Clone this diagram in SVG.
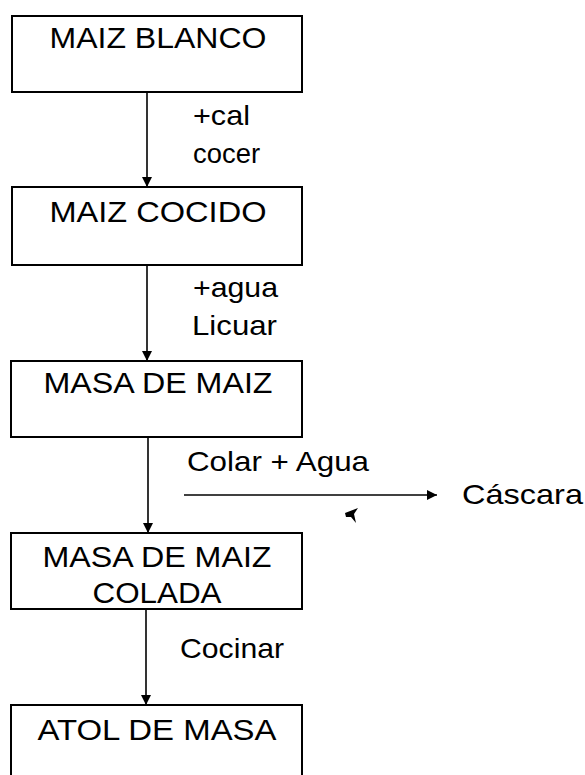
<svg xmlns="http://www.w3.org/2000/svg" width="585" height="775" viewBox="0 0 585 775">
<style>
.box{fill:#fff;stroke:#000;stroke-width:2}
.t{font-family:"Liberation Sans",Arial,sans-serif;font-size:29px;fill:#000;text-anchor:middle}
.l{font-family:"Liberation Sans",Arial,sans-serif;font-size:28px;fill:#000}
.c{stroke:#000;stroke-width:1.6;fill:none}
</style>
<defs>
<marker id="ah" viewBox="0 0 10 10" refX="10" refY="5" markerWidth="10" markerHeight="10" markerUnits="userSpaceOnUse" orient="auto">
<path d="M0,0 L10,5 L0,10 Z" fill="#000"/>
</marker>
</defs>
<rect width="585" height="775" fill="#fff"/>
<g id="connectors">
<line class="c" x1="147" y1="92" x2="147" y2="187" marker-end="url(#ah)"/>
<line class="c" x1="147" y1="265" x2="147" y2="361" marker-end="url(#ah)"/>
<line class="c" x1="148" y1="437" x2="148" y2="533" marker-end="url(#ah)"/>
<line class="c" x1="146" y1="609" x2="146" y2="705" marker-end="url(#ah)"/>
<line class="c" x1="184" y1="495" x2="437" y2="495" marker-end="url(#ah)"/>
<text class="l" x="193" y="125" textLength="57" lengthAdjust="spacingAndGlyphs">+cal</text>
<text class="l" x="193" y="163" textLength="67" lengthAdjust="spacingAndGlyphs">cocer</text>
<text class="l" x="193" y="297" textLength="85" lengthAdjust="spacingAndGlyphs">+agua</text>
<text class="l" x="192" y="335" textLength="85" lengthAdjust="spacingAndGlyphs">Licuar</text>
<text class="l" x="187" y="471" textLength="182" lengthAdjust="spacingAndGlyphs">Colar + Agua</text>
<text class="l" x="180" y="658" textLength="104" lengthAdjust="spacingAndGlyphs">Cocinar</text>
<path d="M345,513 L358,508 L354,514 L356,523 L351,517 L346,517 Z" fill="#000"/>
</g>
<g id="maiz-blanco">
<rect class="box" x="12" y="16" width="290" height="76"/>
<text class="t" x="158" y="48" textLength="217" lengthAdjust="spacingAndGlyphs">MAIZ BLANCO</text>
</g>
<g id="maiz-cocido">
<rect class="box" x="12" y="187" width="290" height="78"/>
<text class="t" x="158" y="222" textLength="217" lengthAdjust="spacingAndGlyphs">MAIZ COCIDO</text>
</g>
<g id="masa-de-maiz">
<rect class="box" x="11" y="361" width="291" height="76"/>
<text class="t" x="158" y="393" textLength="229" lengthAdjust="spacingAndGlyphs">MASA DE MAIZ</text>
</g>
<g id="masa-colada">
<rect class="box" x="11" y="533" width="291" height="76"/>
<text class="t" x="157" y="567" textLength="229" lengthAdjust="spacingAndGlyphs">MASA DE MAIZ</text>
<text class="t" x="157" y="603" textLength="129" lengthAdjust="spacingAndGlyphs">COLADA</text>
</g>
<g id="atol">
<rect class="box" x="11" y="705" width="291" height="80"/>
<text class="t" x="157" y="740" textLength="239" lengthAdjust="spacingAndGlyphs">ATOL DE MASA</text>
</g>
<g id="cascara">
<text class="l" x="462" y="504" textLength="121" lengthAdjust="spacingAndGlyphs">Cáscara</text>
</g>
</svg>
